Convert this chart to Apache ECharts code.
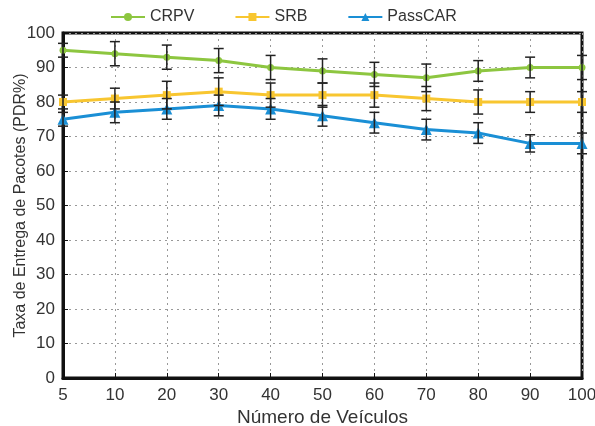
<!DOCTYPE html>
<html>
<head>
<meta charset="utf-8">
<script src="https://cdn.jsdelivr.net/npm/echarts@6/dist/echarts.min.js"></script>
<style>
  html, body { margin: 0; padding: 0; background: #fff; }
  #chart { width: 595px; height: 426px; }
</style>
</head>
<body>
<div id="chart"></div>
<script>
  var categories = ['5', '10', '20', '30', '40', '50', '60', '70', '80', '90', '100'];
  var crpv = [95, 94, 93, 92, 90, 89, 88, 87, 89, 90, 90];
  var crpvErr = [2, 3.5, 3.5, 3.5, 3.5, 3.5, 3.5, 4, 3, 3, 3.5];
  var srb = [80, 81, 82, 83, 82, 82, 82, 81, 80, 80, 80];
  var srbErr = [2, 3, 4, 4, 3.5, 3.5, 3.5, 3.5, 3.5, 3, 3];
  var passcar = [75, 77, 78, 79, 78, 76, 74, 72, 71, 68, 68];
  var passcarErr = [2, 3, 3, 3, 3, 3, 3, 3, 3, 2.5, 3];

  var chart = echarts.init(document.getElementById('chart'));

  function errData(vals, errs) {
    var out = [];
    for (var i = 0; i < vals.length; i++) {
      out.push([i, vals[i] - errs[i], vals[i] + errs[i]]);
    }
    return out;
  }

  // draws vertical error bar with caps
  function renderErr(params, api) {
    var lo = api.coord([api.value(0), api.value(1)]);
    var hi = api.coord([api.value(0), api.value(2)]);
    var w = 5;
    var st = { stroke: '#222', lineWidth: 1.5 };
    return {
      type: 'group',
      children: [
        { type: 'line', shape: { x1: lo[0], y1: lo[1], x2: hi[0], y2: hi[1] }, style: st },
        { type: 'line', shape: { x1: lo[0] - w, y1: lo[1], x2: lo[0] + w, y2: lo[1] }, style: st },
        { type: 'line', shape: { x1: hi[0] - w, y1: hi[1], x2: hi[0] + w, y2: hi[1] }, style: st }
      ]
    };
  }

  var font = 'Liberation Sans, Arial, sans-serif';

  var option = {
    animation: false,
    legend: {
      top: 4,
      left: 105,
      itemWidth: 34,
      itemHeight: 10,
      itemGap: 40,
      textStyle: { fontFamily: font, fontSize: 16, color: '#333' },
      data: ['CRPV', 'SRB', 'PassCAR']
    },
    grid: {
      left: 63, right: 13, top: 33, bottom: 48,
      outerBoundsMode: 'none',
      show: true, borderColor: '#111', borderWidth: 3
    },
    xAxis: {
      type: 'category',
      data: categories,
      boundaryGap: false,
      name: 'Número de Veículos',
      nameLocation: 'middle',
      nameGap: 30,
      nameMoveOverlap: false,
      nameTextStyle: { fontFamily: font, fontSize: 19, color: '#333' },
      axisLine: { lineStyle: { color: '#111', width: 3 } },
      axisTick: { inside: true, length: 5, lineStyle: { color: '#111' } },
      axisLabel: { fontFamily: font, fontSize: 17, color: '#333', margin: 9 },
      splitLine: { show: true, lineStyle: { color: '#999', type: [2, 4] } }
    },
    yAxis: {
      type: 'value',
      min: 0, max: 100, interval: 10,
      name: 'Taxa de Entrega de Pacotes (PDR%)',
      nameLocation: 'middle',
      nameGap: 34,
      nameMoveOverlap: false,
      nameTextStyle: { fontFamily: font, fontSize: 16, color: '#333' },
      axisLine: { show: true, lineStyle: { color: '#111', width: 3 } },
      axisTick: { show: true, inside: true, length: 5, lineStyle: { color: '#111' } },
      axisLabel: { fontFamily: font, fontSize: 17, color: '#333', margin: 8 },
      splitLine: { show: true, lineStyle: { color: '#999', type: [2, 4] } }
    },
    series: [
      {
        name: 'CRPV', type: 'line', data: crpv, z: 3,
        symbol: 'circle', symbolSize: 7,
        lineStyle: { width: 3, color: '#8dc640' },
        itemStyle: { color: '#8dc640' }
      },
      {
        name: 'SRB', type: 'line', data: srb, z: 3,
        symbol: 'rect', symbolSize: 8,
        lineStyle: { width: 3, color: '#f8c630' },
        itemStyle: { color: '#f8c630' }
      },
      {
        name: 'PassCAR', type: 'line', data: passcar, z: 3,
        symbol: 'triangle', symbolSize: 11,
        lineStyle: { width: 3, color: '#1a8fd5' },
        itemStyle: { color: '#1a8fd5' }
      },
      { type: 'custom', renderItem: renderErr, data: errData(crpv, crpvErr), z: 4, encode: { x: 0, y: [1, 2] } },
      { type: 'custom', renderItem: renderErr, data: errData(srb, srbErr), z: 4, encode: { x: 0, y: [1, 2] } },
      { type: 'custom', renderItem: renderErr, data: errData(passcar, passcarErr), z: 4, encode: { x: 0, y: [1, 2] } }
    ]
  };

  chart.setOption(option);
</script>
</body>
</html>
